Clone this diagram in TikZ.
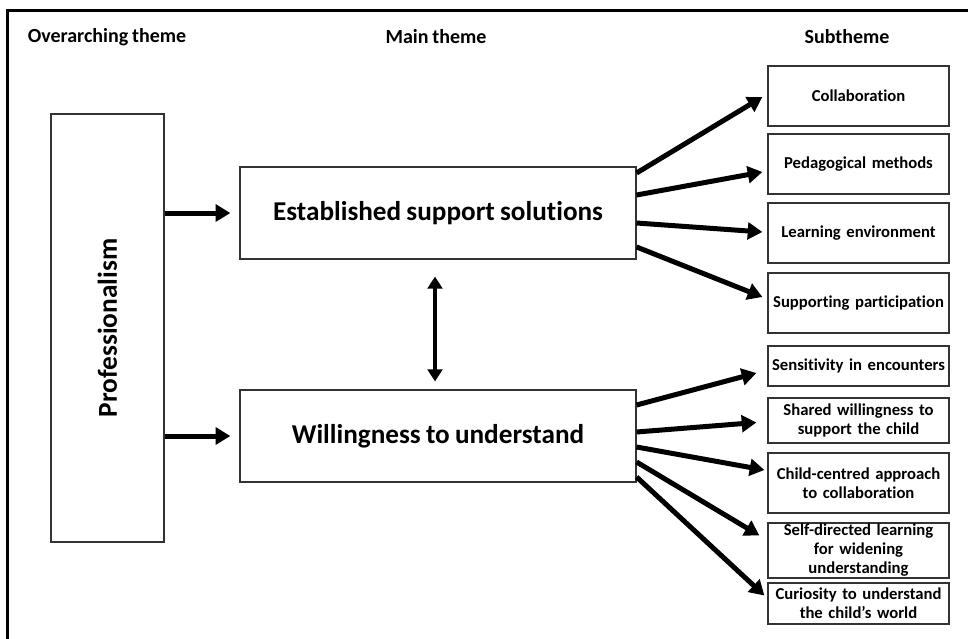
\documentclass[tikz,border=0pt]{standalone}
\usepackage{fontspec}
\setmainfont{Carlito}[Ligatures={TeX,NoCommon},WordSpace=0.85]
\usepackage{tikz}
\usetikzlibrary{arrows.meta}
\usetikzlibrary{positioning}
\tikzstyle{mbox}=[draw=black!80,line width=0.9pt,rectangle,fill=white,inner sep=0pt,align=center]
\tikzstyle{sbox}=[mbox,minimum width=135.75pt,text width=134pt,font=\bfseries\fontsize{12.5}{14.25}\selectfont]
\tikzstyle{thead}=[font=\bfseries\fontsize{15}{18}\selectfont]
\tikzstyle{arr}=[line width=3.75pt,-{Triangle[length=11pt,width=12.5pt]}]
\tikzstyle{darr}=[line width=3pt,{Triangle[length=9pt,width=11pt]}-{Triangle[length=9pt,width=11pt]}]

\begin{document}
\begin{tikzpicture}[x=0.75pt,y=-0.75pt]
      \useasboundingbox (0,0) rectangle (968,639);
      \draw [line width=2.25pt] (7,639) -- (7,10) -- (968,10);
      % headings
      \node [thead] (h1) at (107,37) {Overarching theme};
      \node [thead] (h2) at (436,37) {Main theme};
      \node [thead] (h3) at (847,37) {Subtheme};
      % themes
      \node [mbox,minimum width=84.75pt,minimum height=321pt,font=\bfseries\fontsize{20.5}{24}\selectfont] (prof) at (107.5,328) {\rotatebox{90}{Professionalism}};
      \node [mbox,minimum width=297pt,minimum height=69pt,font=\bfseries\fontsize{20.4}{24}\selectfont] (est) at (438,213) {Established support solutions};
      \node [mbox,minimum width=297pt,minimum height=69pt,font=\bfseries\fontsize{20.4}{24}\selectfont] (will) at (438,436) {Willingness to understand};
      % subthemes
      \node [sbox,minimum height=45pt] (col) at (858.5,96) {Collaboration};
      \node [sbox,minimum height=45pt] (ped) at (858.5,164) {Pedagogical methods};
      \node [sbox,minimum height=45pt] (env) at (858.5,233) {Learning environment};
      \node [sbox,minimum height=45pt] (part) at (858.5,303) {Supporting participation};
      \node [sbox,minimum height=30pt] (sens) at (858.5,366) {Sensitivity in encounters};
      \node [sbox,minimum height=33.75pt] (shared) at (858.5,420.5) {Shared willingness to\\ support the child};
      \node [sbox,minimum height=45pt] (child) at (858.5,483) {Child-centred approach\\ to collaboration};
      \node [sbox,minimum height=41.25pt] (self) at (858.5,550.5) {Self-directed learning\\ for widening\\ understanding};
      \node [sbox,minimum height=30.75pt] (cur) at (858.5,603.5) {Curiosity to understand\\ the child’s world};
      % arrows
      \draw [arr,shorten >=6.75pt] (prof.east |- est) -- (est);
      \draw [arr,shorten >=6.75pt] (prof.east |- will) -- (will);
      \draw [darr,shorten <=12.75pt,shorten >=6pt] ([xshift=-2.25pt]est.south) -- ([xshift=-2.25pt]will.north);
      \foreach \t/\a/\dx/\dy in {col/-40/-5/1, ped/-18/-5/8, env/10/-5/-1, part/34/-5/-6}
        \draw [arr] ([shift={(0,\a)}]est.east) -- ([shift={(\dx,\dy)}]\t.west);
      \foreach \t/\a/\dx/\dy in {sens/-31/-11/7, shared/-4/-11/2, child/11/-3/-13, self/26/-8/-15, cur/41/-3/-8}
        \draw [arr] ([shift={(0,\a)}]will.east) -- ([shift={(\dx,\dy)}]\t.west);
\end{tikzpicture}
\end{document}
